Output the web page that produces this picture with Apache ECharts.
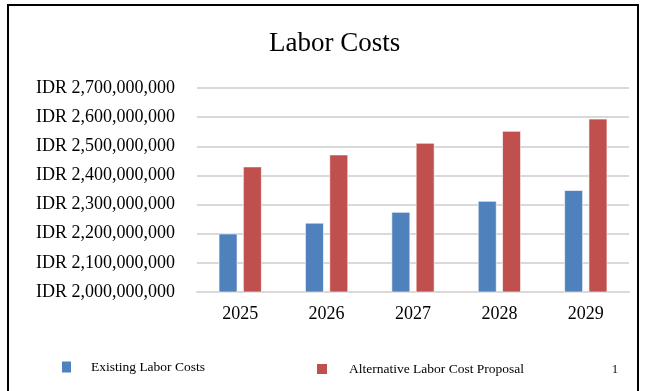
<!DOCTYPE html>
<html><head><meta charset="utf-8">
<script src="https://cdn.jsdelivr.net/npm/echarts@6/dist/echarts.min.js"></script>
<style>html,body{margin:0;padding:0;background:#fff}#c{width:647px;height:391px}</style>
</head><body><div id="c"></div>
<script>
const categories = ['2025', '2026', '2027', '2028', '2029'];
const existingLaborCosts = [2201000000, 2238000000, 2275000000, 2313000000, 2350000000];
const alternativeProposal = [2431000000, 2472000000, 2512000000, 2553000000, 2595000000];
const yMin = 2000000000, yMax = 2700000000, yStep = 100000000;
const seriesNames = ['Existing Labor Costs', 'Alternative Labor Cost Proposal'];

const serif = '"Liberation Serif", "Times New Roman", serif';
function fmt(v){ return 'IDR ' + String(Math.round(v)).replace(/\B(?=(\d{3})+(?!\d))/g, ','); }

const chart = echarts.init(document.getElementById('c'), null, {renderer:'canvas'});
chart.setOption({
  animation: false,
  backgroundColor: '#fff',
  title: { text: 'Labor Costs', left: 264, top: 25, textStyle: { fontFamily: serif, fontSize: 27, fontWeight: 'normal', color: '#000' } },
  grid: { left: 197, right: 18, top: 88, bottom: 99, containLabel: false },
  legend: [
    { data: [seriesNames[0]], left: 62, top: 360, padding: 0, itemWidth: 9, itemHeight: 11, icon: 'rect',
      itemStyle: { borderWidth: 0 },
      textStyle: { fontFamily: serif, fontSize: 13.5, color: '#000', padding: [0,0,0,15] } },
    { data: [seriesNames[1]], left: 317, top: 362, padding: 0, itemWidth: 10, itemHeight: 10, icon: 'rect',
      itemStyle: { borderWidth: 0 },
      textStyle: { fontFamily: serif, fontSize: 13.5, color: '#000', padding: [0,0,0,17] } }
  ],
  xAxis: { type: 'category', data: categories,
    axisLine: { lineStyle: { color: '#d9d9d9', width: 2 } }, axisTick: { show: false },
    axisLabel: { fontFamily: serif, fontSize: 18, color: '#000', margin: 13 } },
  yAxis: { type: 'value', min: yMin, max: yMax, interval: yStep,
    axisLine: { show: false }, axisTick: { show: false },
    splitLine: { lineStyle: { color: '#d9d9d9', width: 2 } },
    axisLabel: { fontFamily: serif, fontSize: 18, color: '#000', margin: 22, formatter: fmt } },
  series: [
    { name: seriesNames[0], type: 'bar', data: existingLaborCosts, barWidth: 19, barGap: '28%',
      itemStyle: { color: '#4F81BD', borderColor: 'rgba(255,255,255,0.6)', borderWidth: 1 } },
    { name: seriesNames[1], type: 'bar', data: alternativeProposal, barWidth: 19,
      itemStyle: { color: '#C0504D', borderColor: 'rgba(255,255,255,0.6)', borderWidth: 1 } }
  ],
  graphic: [
    { type: 'rect', shape: { x: 8, y: 5, width: 630, height: 420 }, style: { fill: 'none', stroke: '#000', lineWidth: 2 }, silent: true },
    { type: 'text', left: 612, top: 364, style: { text: '1', font: '12px ' + serif, fill: '#000' } }
  ]
});
</script></body></html>
